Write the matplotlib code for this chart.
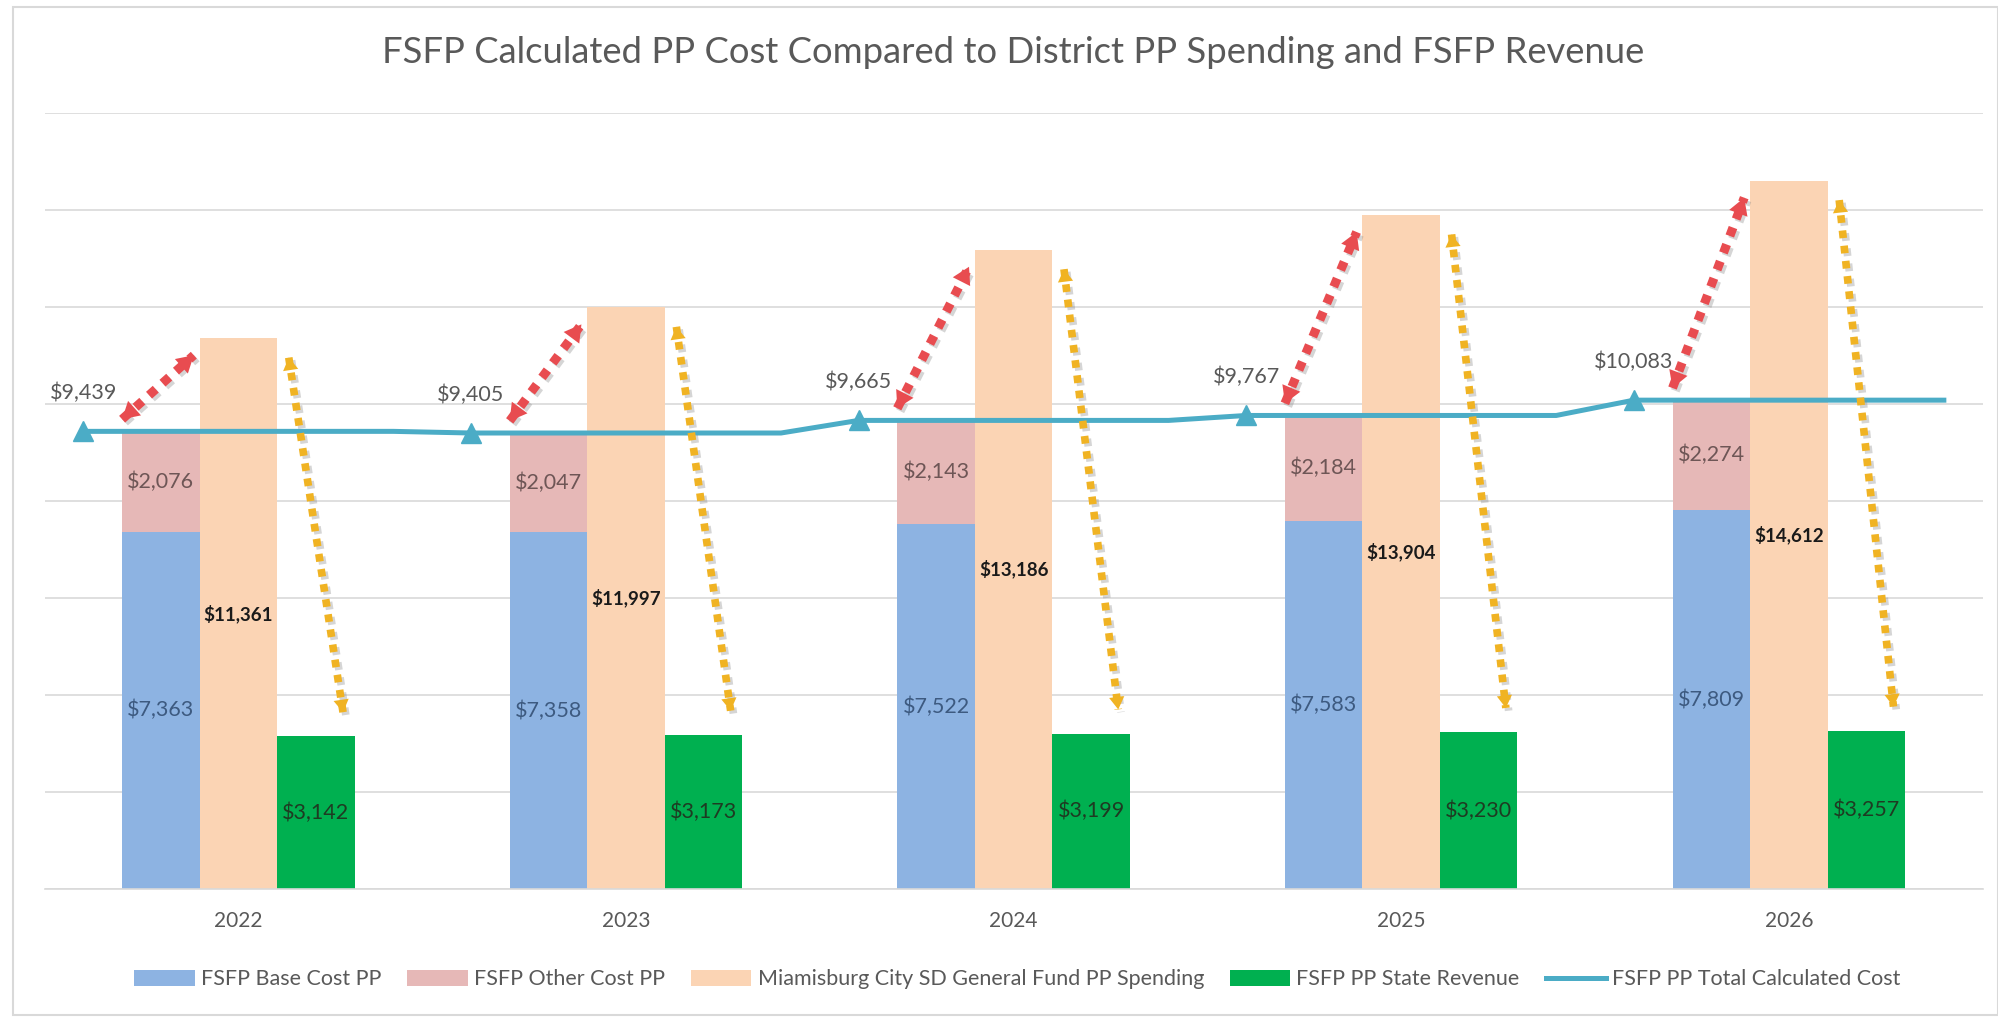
import matplotlib.pyplot as plt
import matplotlib.patheffects as pe
from matplotlib.patches import Rectangle
from matplotlib.lines import Line2D
import numpy as np

plt.rcParams['font.family'] = ['Lato', 'DejaVu Sans']

years = ['2022', '2023', '2024', '2025', '2026']
base_cost = [7363, 7358, 7522, 7583, 7809]
other_cost = [2076, 2047, 2143, 2184, 2274]
district_spending = [11361, 11997, 13186, 13904, 14612]
state_revenue = [3142, 3173, 3199, 3230, 3257]
total_cost = [9439, 9405, 9665, 9767, 10083]

c_blue = '#8DB3E2'
c_pink = '#E6B8B7'
c_peach = '#FBD4B4'
c_green = '#00B050'
c_line = '#4BACC6'

fig = plt.figure(figsize=(19.99, 10.17), dpi=100)
ax = fig.add_axes([0.0223, 0.1262, 0.9695, 0.7622])

# chart area border
fig.patches.append(Rectangle((13 / 1999, 2 / 1017), 1 - 14 / 1999, 1 - 9 / 1017,
                             transform=fig.transFigure, fill=False,
                             edgecolor='#D9D9D9', linewidth=1.5))

x = np.arange(len(years))
w = 0.2

b1 = ax.bar(x - w, base_cost, w, color=c_blue, zorder=2)
b2 = ax.bar(x - w, other_cost, w, bottom=base_cost, color=c_pink, zorder=2)
b3 = ax.bar(x, district_spending, w, color=c_peach, zorder=2)
b4 = ax.bar(x + w, state_revenue, w, color=c_green, zorder=2)

# total cost line sits on a finer category axis (5 slots per year)
line_y = np.repeat(total_cost, 5)
line_x = np.arange(len(line_y)) * 0.2 - 0.4
ax.plot(line_x, line_y, color=c_line, linewidth=3.6, marker='^',
        markersize=14, markevery=5, zorder=4)
ln = Line2D([], [], color=c_line, linewidth=3.6)

fmt = lambda v: '${:,}'.format(v)
for i in range(len(years)):
    ax.text(x[i] - w, base_cost[i] / 2, fmt(base_cost[i]), ha='center', va='center',
            fontsize=15.5, color='#3D5A80', zorder=5)
    ax.text(x[i] - w, base_cost[i] + other_cost[i] / 2, fmt(other_cost[i]), ha='center',
            va='center', fontsize=15.5, color='#6E5656', zorder=5)
    ax.text(x[i], district_spending[i] / 2, fmt(district_spending[i]), ha='center',
            va='center', fontsize=13.5, fontweight='bold', color='#1A1A1A', zorder=5)
    ax.text(x[i] + w, state_revenue[i] / 2, fmt(state_revenue[i]), ha='center',
            va='center', fontsize=15.5, color='#1E3B22', zorder=5)
    ax.text(x[i] - 0.4, total_cost[i] + 580, fmt(total_cost[i]), ha='center',
            va='bottom', fontsize=15.5, color='#595959', zorder=5)


def dotted_arrow(p0, p1, color, lw, head):
    shadow = [pe.SimpleLineShadow(offset=(2, -2), shadow_color='#888888', alpha=0.35),
              pe.Normal()]
    ax.plot([p0[0], p1[0]], [p0[1], p1[1]], color=color, linewidth=lw,
            linestyle=(0, (1.0, 1.0)), solid_capstyle='butt', zorder=6,
            path_effects=shadow)
    for a, b in ((p0, p1), (p1, p0)):
        ax.annotate('', xy=a, xytext=(a[0] + (b[0] - a[0]) * 0.05, a[1] + (b[1] - a[1]) * 0.05),
                    arrowprops=dict(arrowstyle=head, color=color, lw=0, shrinkA=0, shrinkB=0),
                    zorder=7)


for i in range(len(years)):
    dotted_arrow((x[i] - 0.3, total_cost[i] + 250),
                 (x[i] - 0.115, district_spending[i] - 350),
                 '#E84C50', 6.5, '-|>,head_length=1.2,head_width=0.7')
    dotted_arrow((x[i] + 0.13, district_spending[i] - 400),
                 (x[i] + 0.27, state_revenue[i] + 500),
                 '#F0B323', 5.5, '-|>,head_length=0.9,head_width=0.55')

ax.set_xlim(-0.5, len(years) - 0.5)
ax.set_ylim(0, 16000)
ax.set_yticks(np.arange(0, 16001, 2000))
ax.yaxis.grid(True, color='#D9D9D9', linewidth=1.2, zorder=0)
ax.set_axisbelow(True)
ax.tick_params(axis='y', left=False, labelleft=False)
ax.tick_params(axis='x', length=0, pad=16, labelsize=15, labelcolor='#595959')
ax.set_xticks(x)
ax.set_xticklabels(years)
for s in ['top', 'right', 'left']:
    ax.spines[s].set_visible(False)
ax.spines['bottom'].set_color('#D9D9D9')
ax.spines['bottom'].set_linewidth(1.2)

fig.suptitle('FSFP Calculated PP Cost Compared to District PP Spending and FSFP Revenue',
             x=0.507, y=0.965, fontsize=26.2, color='#595959')

fig.legend([b1, b2, b3, b4, ln],
           ['FSFP Base Cost PP', 'FSFP Other Cost PP',
            'Miamisburg City SD General Fund PP Spending', 'FSFP PP State Revenue',
            'FSFP PP Total Calculated Cost'],
           loc='center', bbox_to_anchor=(0.509, 0.037), ncol=5, frameon=False,
           fontsize=15.5, labelcolor='#595959', handlelength=2.8, handleheight=0.8,
           handletextpad=0.3, columnspacing=1.2)

fig.savefig('out.png', dpi=100)
